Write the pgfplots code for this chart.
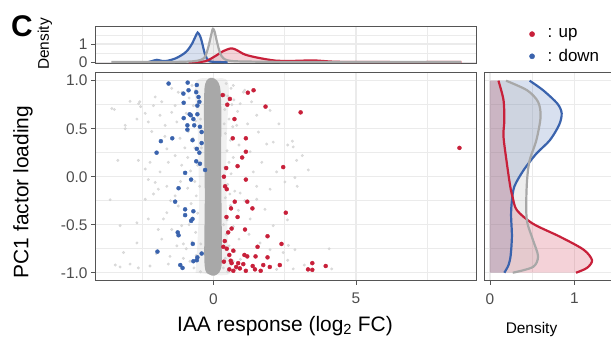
\documentclass[border=0pt]{standalone}
\usepackage{pgfplots}
\pgfplotsset{compat=1.18}
\usepgfplotslibrary{fillbetween}
\usepackage{fontspec}
\setmainfont{Liberation Sans}

\definecolor{upred}{HTML}{C8203A}
\definecolor{downblue}{HTML}{3A63AD}
\definecolor{allgrey}{HTML}{A8A8A8}
\definecolor{lightpt}{HTML}{CFCFCF}
\definecolor{gridc}{HTML}{EBEBEB}
\definecolor{framec}{HTML}{555555}
\definecolor{tickc}{HTML}{4D4D4D}

\pgfplotsset{
  panel/.style={
    scale only axis,
    set layers,
    axis line style={framec, line width=0.8bp},
    tick style={framec, line width=0.8bp},
    major tick length=4bp,
    minor tick length=0pt,
    tick align=outside,
    tick pos=left,
    grid=both,
    major grid style={gridc, line width=1.3bp},
    minor grid style={gridc, line width=0.6bp},
    ticklabel style={font=\fontsize{15.5}{16}\selectfont, text=tickc},
    xticklabel style={yshift=-5bp},
    /pgf/number format/assume math mode=true,
  },
  dens/.style={smooth, line width=2.2bp},
}

\begin{document}
\begin{tikzpicture}

% ---------------- main scatter panel ----------------
\begin{axis}[panel, at={(95bp,58.3bp)}, anchor=south west, width=381bp, height=208bp,
  xmin=-4.15, xmax=9.21, ymin=-1.083, ymax=1.083,
  xtick={0,5}, xticklabels={0,5}, minor xtick={-2.5,2.5,7.5},
  ytick={-1,-0.5,0,0.5,1}, yticklabels={-1.0,-0.5,0.0,0.5,1.0},
  minor ytick={-0.75,-0.25,0.25,0.75},
  legend style={at={(1.132,1.231)}, anchor=north west, draw=none, fill=none,
    font=\fontsize{17}{18}\selectfont, row sep=6bp,
    /tikz/every odd column/.append style={column sep=11bp}},
  legend cell align=left,
  legend image post style={mark size=2.6bp},
]
% soft halo around the dense column
\addplot[forget plot, fill=allgrey, fill opacity=0.16, draw=none, smooth] coordinates {
 (-0.62,-1.0) (-0.56,-0.7) (-0.5,-0.3) (-0.52,0.1) (-0.55,0.5) (-0.62,0.98)
 (0,1.02) (0.52,0.98) (0.48,0.5) (0.45,0.1) (0.47,-0.3) (0.52,-0.7) (0.6,-1.0) (0,-1.02)};
% sparse grey genes
\addplot[forget plot, only marks, mark=*, mark size=1.3bp, color=lightpt, opacity=0.7] table {
x y
-3.56 0.71
-3.47 0.70
-3.35 0.17
-3.09 0.50
-2.92 0.785
-3.09 0.535
-2.62 0.76
-2.55 0.73
-2.58 0.78
-2.68 0.60
-2.39 0.66
-2.28 0.57
-2.16 0.47
-2.10 0.74
-2.04 0.83
-1.87 0.64
-1.81 0.78
-1.69 0.535
-1.63 0.29
-2.63 0.17
-2.39 0.08
-2.22 0.15
-1.87 0.05
-1.58 0.15
-1.46 0.67
-1.34 0.74
-1.28 0.57
-1.23 0.88
-1.46 0.92
-1.17 0.40
-1.34 0.22
-1.11 0.12
-3.62 -0.24
-3.27 -0.94
-2.28 -0.03
-2.04 -0.06
-2.10 -0.18
-1.63 -0.10
-2.28 -0.44
-2.68 -0.48
-3.27 -0.51
-2.68 -0.69
-3.15 -0.79
-3.44 -0.92
-2.92 -0.91
-2.63 -0.95
-2.22 -0.93
-1.93 -0.55
-1.75 -0.44
-1.81 -0.65
-1.63 -0.375
-1.52 -0.83
-1.58 -0.91
-1.46 -0.55
-1.28 -0.72
-1.23 -0.305
-1.11 -0.51
-1.34 -0.20
-1.93 -0.13
-2.39 -0.235
0.94 0.76
1.34 0.78
1.52 0.64
1.99 0.69
1.87 0.34
2.10 0.36
1.58 0.465
1.29 0.26
1.70 0.15
2.22 0.05
0.82 0.535
1.05 0.88
0.70 0.95
1.52 -0.10
1.99 -0.13
1.81 -0.34
1.29 -0.44
2.10 -0.51
1.64 -0.69
1.99 -0.76
2.45 -0.79
2.22 -0.965
0.94 -0.17
1.52 -0.235
2.61 0.33
2.77 0.37
2.80 0.31
3.12 0.22
2.92 0.17
3.33 0.07
2.86 -0.01
2.94 -0.10
2.51 -0.055
2.63 -0.715
2.86 -0.76
4.06 -0.75
2.61 -0.87
3.19 -0.92
4.15 -0.96
2.80 -0.96
-1.0 0.3
-1.15 -0.05
-1.05 -0.7
1.2 0.55
1.25 -0.6
1.4 0.05
1.1 -0.25
-1.5 -0.25
-1.7 0.42
-2.0 -0.8
2.3 0.55
2.6 -0.45
-0.75 0.95
-0.85 0.82
0.72 0.8
-0.95 0.66
0.85 0.68
-0.88 0.47
0.9 0.33
-0.9 0.2
0.7 0.2
-0.8 0.06
-0.9 -0.12
0.75 -0.15
-0.78 -0.28
0.88 -0.35
-0.85 -0.5
0.7 -0.52
0.9 -0.65
-0.95 -0.75
0.75 -0.78
0.95 -0.86
-0.82 -0.88
0.8 -0.96
1.05 -0.92
-1.05 -0.85
1.1 0.9
-1.1 0.88
-0.62 0.9
0.45 0.97
0.62 0.92
0.5 0.84
-0.7 0.74
0.4 0.7
0.55 0.6
-0.62 0.58
0.68 0.52
0.42 0.45
-0.72 0.4
0.6 0.38
-0.65 0.3
0.48 0.27
0.4 0.1
-0.55 0.12
0.62 0.03
-0.65 -0.05
0.5 -0.08
-0.6 -0.2
0.42 -0.22
0.6 -0.3
-0.55 -0.38
0.48 -0.45
-0.62 -0.58
0.45 -0.6
-0.75 -0.68
0.55 -0.72
-0.6 -0.82
0.42 -0.85
0.6 -0.9
-0.68 -0.95
0.5 -0.99
-0.45 -0.99
0.38 0.55
0.36 -0.5
0.4 0.85
0.35 -0.95
-0.45 0.6
-0.48 -0.1
-0.42 0.3
-0.44 -0.7
0.55 0.15
0.58 -0.18
0.65 0.75
0.7 -0.88
};
% dense core of unchanged genes
\addplot[forget plot, fill=allgrey, draw=none, smooth] coordinates {
 (-0.05,-1.03) (-0.24,-1.0) (-0.3,-0.94) (-0.32,-0.8) (-0.31,-0.5) (-0.3,-0.2) (-0.31,0.1)
 (-0.32,0.4) (-0.33,0.7) (-0.31,0.92) (-0.24,1.0) (-0.1,1.03) (0.05,1.02) (0.18,0.98)
 (0.25,0.9) (0.28,0.7) (0.28,0.5) (0.27,0.2) (0.28,-0.1) (0.29,-0.4) (0.3,-0.7) (0.29,-0.92)
 (0.2,-1.0) (0.05,-1.03)};
% up-regulated
\addplot[only marks, mark=*, mark size=2bp, color=upred] table {
x y
0.33 0.85
0.58 0.81
0.49 0.75
1.21 0.875
1.41 0.90
1.83 0.73
3.06 0.67
0.74 0.60
0.68 0.40
1.14 0.40
1.14 0.26
1.01 0.20
0.45 0.09
0.85 0.11
8.63 0.30
2.45 0.10
0.37 0.0
1.14 -0.03
0.41 -0.10
0.47 -0.13
0.75 -0.26
1.19 -0.26
0.62 -0.33
1.37 -0.33
2.54 -0.375
0.46 -0.42
0.85 -0.42
0.64 -0.54
1.11 -0.55
0.52 -0.58
1.9 -0.62
2.39 -0.70
0.35 -0.73
0.47 -0.75
1.55 -0.73
0.70 -0.77
0.40 -0.67
0.56 -0.815
1.09 -0.815
1.19 -0.83
1.48 -0.83
1.90 -0.84
0.87 -0.90
1.05 -0.91
0.64 -0.90
1.38 -0.93
1.98 -0.94
2.33 -0.92
1.66 -0.98
0.70 -0.98
0.56 -0.965
0.80 -0.94
1.14 -0.98
1.46 -0.965
3.47 -0.90
3.32 -0.965
3.47 -0.97
3.94 -0.93
0.37 -0.885
0.61 -0.875
0.93 -0.955
1.75 -0.92
};
\addlegendentry{: up}
% down-regulated
\addplot[only marks, mark=*, mark size=2bp, color=downblue] table {
x y
-1.57 0.97
-0.90 0.98
-0.58 0.955
-0.60 0.88
-0.52 0.83
-1.05 0.865
-0.87 0.90
-0.49 0.78
-0.56 0.74
-1.04 0.77
-0.83 0.65
-0.79 0.64
-0.56 0.65
-1.04 0.61
-0.70 0.60
-0.91 0.535
-0.67 0.535
-0.47 0.52
-0.91 0.49
-0.41 0.465
-1.44 0.40
-1.84 0.37
-0.73 0.38
-0.41 0.35
-0.58 0.29
-1.99 0.25
-0.49 0.25
-0.60 0.16
-0.47 0.135
-0.29 0.07
-0.99 0.04
-0.78 -0.03
-1.22 -0.12
-1.34 -0.26
-0.99 -0.34
-0.70 -0.36
-0.99 -0.40
-0.73 -0.44
-0.78 -0.46
-1.25 -0.58
-1.22 -0.61
-0.72 -0.70
-1.96 -0.78
-0.41 -0.80
-0.56 -0.84
-0.70 -0.88
-0.58 -0.87
-1.16 -0.92
-1.08 -0.95
};
\addlegendentry{: down}
\end{axis}

% ---------------- top marginal density ----------------
\begin{axis}[panel, at={(95bp,275.7bp)}, anchor=south west, width=381bp, height=37.3bp,
  xmin=-4.15, xmax=9.21, ymin=-0.06, ymax=1.99,
  xtick={0,5}, xticklabels={}, minor xtick={-2.5,2.5,7.5},
  x tick style={draw=none},
  ytick={0,1}, yticklabels={0,1}, minor ytick={0.5,1.5},
]
\addplot[name path=tbase, draw=none] coordinates {(-4.15,0) (9.21,0)};
\addplot[name path=tdown, dens, downblue] coordinates {
 (-2.3,0) (-2.15,0.06) (-1.98,0.13) (-1.8,0.07) (-1.6,0.08) (-1.34,0.2) (-1.1,0.4) (-0.93,0.61)
 (-0.76,0.98) (-0.63,1.4) (-0.55,1.63) (-0.47,1.45) (-0.41,1.17) (-0.29,0.42) (-0.17,0.09)
 (0,0.02) (0.5,0)};
\addplot[name path=tup, dens, upred] coordinates {
 (-0.87,0) (-0.29,0.05) (0.06,0.33) (0.35,0.61) (0.62,0.76) (0.8,0.68) (1.11,0.42) (1.58,0.24)
 (2.16,0.09) (2.63,0.07) (3.03,0.08) (3.5,0.1) (4.2,0.03) (5,0.01) (7,0.005) (8.7,0.01)};
\addplot[name path=tall, dens, allgrey] coordinates {
 (-3.58,0.01) (-3,0.01) (-2,0.01) (-1.2,0.02) (-0.7,0.05) (-0.45,0.12) (-0.33,0.22) (-0.25,0.45)
 (-0.17,0.87) (-0.09,1.4) (-0.02,1.83) (0.04,1.7) (0.1,1.3) (0.17,0.85) (0.25,0.45) (0.35,0.22)
 (0.5,0.1) (0.8,0.05) (1.5,0.03) (2.5,0.015) (4,0.01) (6,0.01) (8.68,0.01)};
\addplot[fill=downblue, fill opacity=0.2] fill between[of=tdown and tbase];
\addplot[fill=upred, fill opacity=0.2] fill between[of=tup and tbase];
\addplot[fill=allgrey, fill opacity=0.2] fill between[of=tall and tbase];
\end{axis}

% ---------------- right marginal density ----------------
\begin{axis}[panel, at={(484bp,58.3bp)}, anchor=south west, width=127bp, height=208bp,
  xmin=-0.071, xmax=1.435, ymin=-1.083, ymax=1.083,
  xtick={0,1}, xticklabels={0,1}, minor xtick={0.5},
  ytick={-1,-0.5,0,0.5,1}, yticklabels={}, minor ytick={-0.75,-0.25,0.25,0.75},
  y tick style={draw=none},
]
\addplot[name path=rbase, draw=none] coordinates {(0,-1) (0,1)};
\addplot[name path=rdown, dens, downblue] coordinates {
 (0.17,-1) (0.22,-0.92) (0.245,-0.82) (0.26,-0.62) (0.25,-0.4) (0.26,-0.25) (0.29,-0.1)
 (0.40,0.07) (0.55,0.24) (0.71,0.38) (0.82,0.54) (0.85,0.66) (0.80,0.76) (0.63,0.90) (0.47,1.0)};
\addplot[name path=rup, dens, upred] coordinates {
 (1.02,-1.0) (1.15,-0.95) (1.21,-0.87) (1.11,-0.76) (0.83,-0.625) (0.51,-0.49) (0.32,-0.35)
 (0.27,-0.22) (0.24,-0.10) (0.20,0.14) (0.16,0.42) (0.17,0.59) (0.16,0.80) (0.10,1.0)};
\addplot[name path=rall, dens, allgrey] coordinates {
 (0.27,-1.0) (0.51,-0.94) (0.57,-0.83) (0.51,-0.66) (0.44,-0.47) (0.43,-0.28) (0.44,-0.03)
 (0.47,0.17) (0.55,0.38) (0.60,0.625) (0.57,0.78) (0.44,0.90) (0.19,1.0)};
\addplot[fill=downblue, fill opacity=0.2] fill between[of=rdown and rbase];
\addplot[fill=upred, fill opacity=0.2] fill between[of=rup and rbase];
\addplot[fill=allgrey, fill opacity=0.2] fill between[of=rall and rbase];
\end{axis}

% ---------------- titles ----------------
\node[font=\bfseries\fontsize{30}{30}\selectfont] at (22bp,313bp) {C};
\node[rotate=90, font=\fontsize{15.5}{16}\selectfont] at (45bp,295bp) {Density};
\node[rotate=90, font=\fontsize{21}{22}\selectfont] at (23bp,147bp) {PC1 factor loading};
\node[font=\fontsize{21}{22}\selectfont] at (285bp,13bp) {IAA response (log\textsubscript{2} FC)};
\node[font=\fontsize{15.5}{16}\selectfont] at (531.5bp,9bp) {Density};
\pgfresetboundingbox
\path[use as bounding box] (0,0) rectangle (611bp,339bp);
\end{tikzpicture}
\end{document}
